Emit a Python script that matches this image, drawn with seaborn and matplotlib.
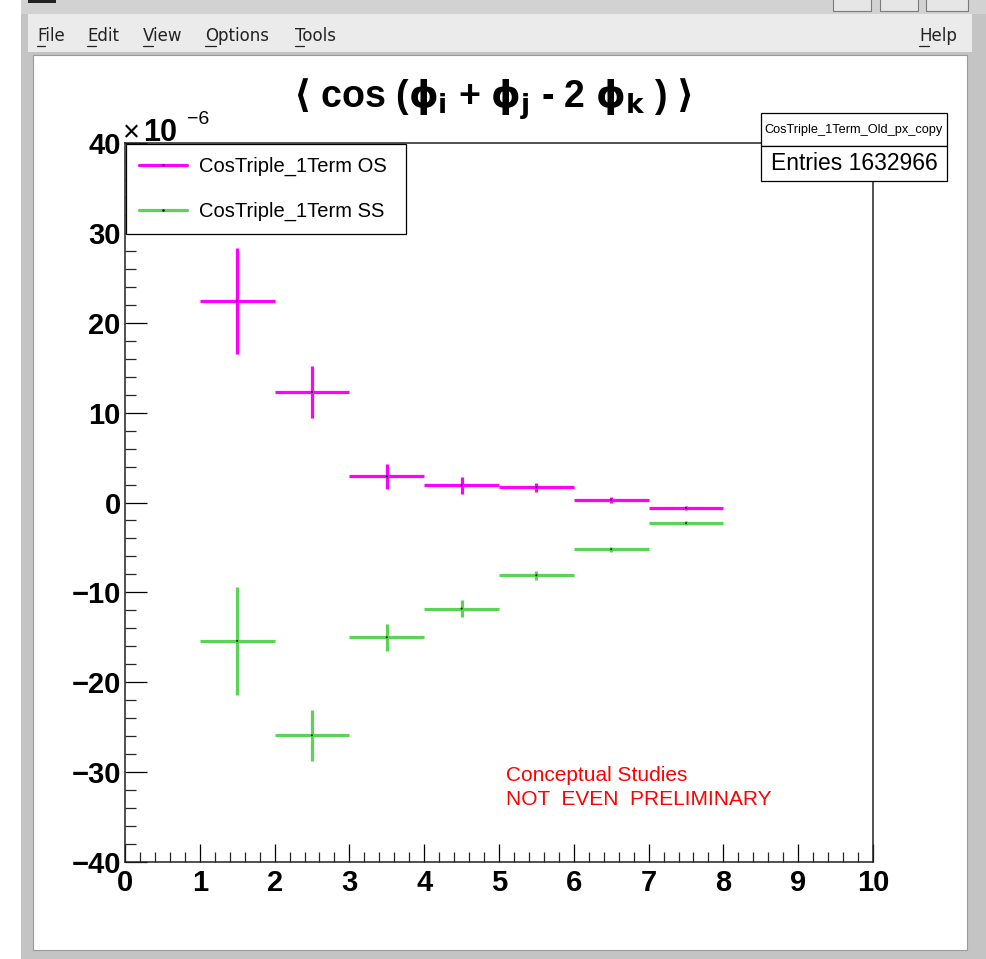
import numpy as np
import pandas as pd
import matplotlib
matplotlib.use("Agg")
import matplotlib.pyplot as plt
from matplotlib.patches import Rectangle
from matplotlib.lines import Line2D
from matplotlib.ticker import MultipleLocator
import seaborn as sns

# bin centres (x) and half widths
bin_centers = [1.5, 2.5, 3.5, 4.5, 5.5, 6.5, 7.5]
bin_halfwidth = 0.5

# <cos(phi_i + phi_j - 2 phi_k)>, in units of 1e-6
os_mean = [22.4, 12.3, 2.9, 1.9, 1.7, 0.3, -0.6]
os_err = [5.9, 2.85, 1.4, 0.9, 0.5, 0.3, 0.2]
ss_mean = [-15.4, -25.9, -15.0, -11.8, -8.1, -5.2, -2.3]
ss_err = [6.0, 2.85, 1.5, 0.9, 0.5, 0.3, 0.2]

series_names = ["CosTriple_1Term OS", "CosTriple_1Term SS"]
series_colors = ["#ff00ff", "#59d454"]
x_ticks = list(range(0, 11))
y_ticks = [-40, -30, -20, -10, 0, 10, 20, 30, 40]

W, H = 987, 959

def fx(x):
    return x / W

def fy(y):
    return 1 - y / H

sns.set_style("ticks")
plt.rcParams["font.family"] = ["Liberation Sans", "DejaVu Sans"]
plt.rcParams["text.color"] = "black"
plt.rcParams["mathtext.fontset"] = "custom"
plt.rcParams["mathtext.rm"] = "DejaVu Sans:bold"
plt.rcParams["mathtext.it"] = "DejaVu Sans:bold"
plt.rcParams["mathtext.bf"] = "DejaVu Sans:bold"
plt.rcParams["mathtext.fallback"] = "stixsans"

fig = plt.figure(figsize=(W / 100, H / 100), dpi=100)
fig.patch.set_facecolor("white")

# ---- window chrome ----
def frect(x0, y0, x1, y1, **kw):
    r = Rectangle((fx(x0), fy(y1)), fx(x1) - fx(x0), fy(y0) - fy(y1),
                  transform=fig.transFigure, **kw)
    fig.add_artist(r)
    return r

frect(21, 0, 987, 959, facecolor="#c4c4c4", edgecolor="none", zorder=-5)
frect(21, 0, 987, 14, facecolor="#d2d2d2", edgecolor="none", zorder=-4)
frect(28, 14, 972, 52, facecolor="#ebebeb", edgecolor="none", zorder=-4)
frect(33, 55, 967, 950, facecolor="white", edgecolor="#9a9a9a", linewidth=0.8, zorder=-3)
for bx0, bx1 in [(833, 871), (880, 918), (926, 968)]:
    frect(bx0, -2, bx1, 11, facecolor="#e6e6e6", edgecolor="#7a7a7a", linewidth=0.8, zorder=-2)
frect(28, 0, 56, 3, facecolor="#222222", edgecolor="none", zorder=-2)

menu_items = [("File", 37, 8), ("Edit", 87, 9), ("View", 143, 10),
              ("Options", 205, 11), ("Tools", 295, 9), ("Help", 919, 10)]
for label, mx, uw in menu_items:
    fig.text(fx(mx), fy(36), label, fontsize=12, family="DejaVu Sans",
             va="center", ha="left", color="#222222")
    fig.add_artist(Line2D([fx(mx), fx(mx + uw)], [fy(46), fy(46)],
                          transform=fig.transFigure, color="#222222", linewidth=0.9))

# ---- plot area ----
ax = fig.add_axes([fx(125), fy(862), fx(873) - fx(125), fy(143) - fy(862)])

df = pd.DataFrame({
    "x": bin_centers * 2,
    "value": os_mean + ss_mean,
    "series": [series_names[0]] * len(bin_centers) + [series_names[1]] * len(bin_centers),
})

for mean, err, color in [(os_mean, os_err, series_colors[0]), (ss_mean, ss_err, series_colors[1])]:
    ax.errorbar(bin_centers, mean, xerr=bin_halfwidth, yerr=err, fmt="none",
                ecolor=color, elinewidth=2.3, capsize=0, zorder=2)

sns.scatterplot(data=df, x="x", y="value", hue="series",
                palette={series_names[0]: "black", series_names[1]: "black"},
                s=2, linewidth=0, legend=False, ax=ax, zorder=3)

ax.set_xlim(0, 10)
ax.set_ylim(-40, 40)
ax.set_xticks(x_ticks)
ax.set_yticks(y_ticks)
ax.xaxis.set_minor_locator(MultipleLocator(0.2))
ax.yaxis.set_minor_locator(MultipleLocator(2))
ax.set_xlabel("")
ax.set_ylabel("")
for lab in ax.get_xticklabels() + ax.get_yticklabels():
    lab.set_fontweight("bold")
    lab.set_fontsize(21)
ax.tick_params(axis="x", which="major", direction="in", length=13, width=0.9, pad=5,
               top=False, colors="black")
ax.tick_params(axis="x", which="minor", direction="in", length=7, width=0.9, top=False)
ax.tick_params(axis="y", which="major", direction="in", length=16, width=0.9, pad=3,
               right=False, colors="black")
ax.tick_params(axis="y", which="minor", direction="in", length=8, width=0.9, right=False)
for sp in ax.spines.values():
    sp.set_visible(True)
    sp.set_linewidth(1.1)
    sp.set_color("#222222")

fig.text(fx(123), fy(141), "×", fontsize=21, ha="left", va="baseline",
         family=["Liberation Sans", "DejaVu Sans"])
fig.text(fx(143), fy(141), "10", fontsize=22, ha="left", va="baseline",
         fontweight="bold", family=["Liberation Sans", "DejaVu Sans"])
fig.text(fx(187), fy(124), "−6", fontsize=14, ha="left", va="baseline",
         family=["Liberation Sans", "DejaVu Sans"])

# legend
handles = [Line2D([0], [0], color=c, linewidth=2.3, marker=".", markersize=1.5,
                  markerfacecolor="black", markeredgecolor="black")
           for c in series_colors]
leg = ax.legend(handles, series_names, loc="upper left", bbox_to_anchor=(0.0015, 0.0, 0.374, 0.9985),
                mode="expand", borderaxespad=0, fontsize=14.5, frameon=True, fancybox=False,
                edgecolor="black", framealpha=1, labelspacing=1.3, borderpad=0.62,
                handlelength=2.4, handletextpad=0.6)
leg.get_frame().set_linewidth(0.9)

# title
title = r"$\langle$ cos ($\phi_{i}$ + $\phi_{j}$ - 2 $\phi_{k}$ ) $\rangle$"
fig.text(fx(493), fy(99), title, fontsize=27, fontweight="bold", ha="center", va="center",
         family=["Liberation Sans", "DejaVu Sans"])

# stats box
frect(761, 113, 947, 146, facecolor="white", edgecolor="black", linewidth=0.9, zorder=5)
frect(761, 146, 947, 181, facecolor="white", edgecolor="black", linewidth=0.9, zorder=5)
fig.text(fx(854), fy(130), "CosTriple_1Term_Old_px_copy", fontsize=9.2,
         ha="center", va="center", zorder=6)
fig.text(fx(854), fy(164), "Entries 1632966", fontsize=16.5,
         ha="center", va="center", zorder=6)

# red note
ax.text(5.09, -30.4, "Conceptual Studies", color="red", fontsize=15, ha="left", va="center")
ax.text(5.09, -33.0, "NOT  EVEN  PRELIMINARY", color="red", fontsize=15, ha="left", va="center")

fig.savefig("out.png", dpi=100)
